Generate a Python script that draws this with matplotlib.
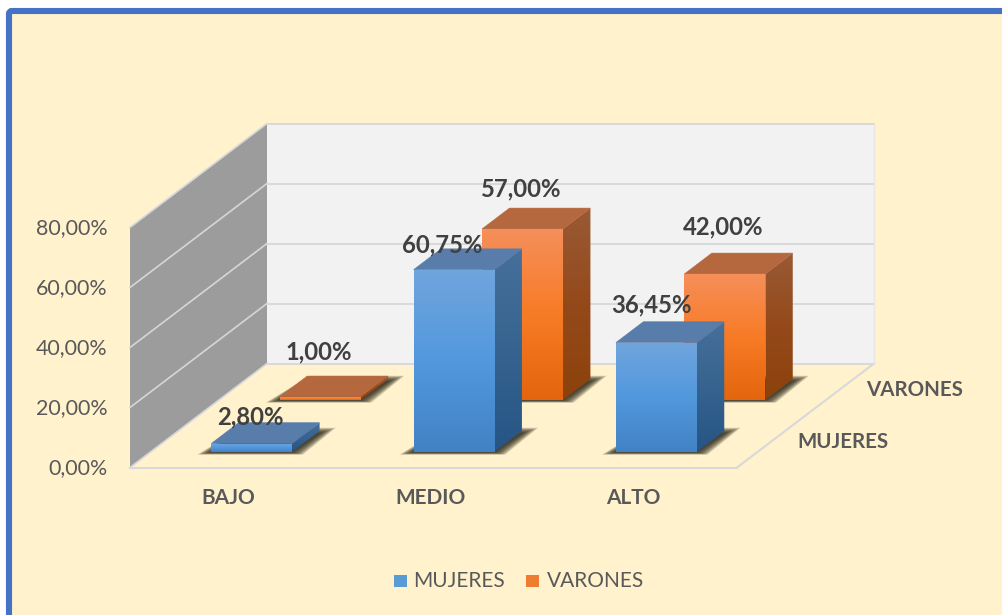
import numpy as np
import matplotlib
matplotlib.use('Agg')
import matplotlib.pyplot as plt
from matplotlib.patches import Polygon, FancyBboxPatch, Rectangle
from matplotlib.colors import LinearSegmentedColormap

categorias = ['BAJO', 'MEDIO', 'ALTO']
series = ['MUJERES', 'VARONES']
mujeres = [2.80, 60.75, 36.45]
varones = [1.00, 57.00, 42.00]
valores_eje = [0, 20, 40, 60, 80]
etiquetas_eje = ['0,00%', '20,00%', '40,00%', '60,00%', '80,00%']

plt.rcParams['font.family'] = ['Lato', 'DejaVu Sans']

# oblique projection, pixels of the picture
X0, Y0 = 130, 467.5
CAT_W = 607 / 3
DEPTH_X, DEPTH_Y = 68.5, 52
PX_POR_PCT = 3.0
BAR_W, BAR_D = 0.40, 0.40


def proj(c, s, v=0):
    return (X0 + c * CAT_W + s * DEPTH_X, Y0 - s * DEPTH_Y - v * PX_POR_PCT)


def face(ax, pts, colores, z):
    # polygon filled with a vertical gradient
    pts = np.array(pts)
    cmap = LinearSegmentedColormap.from_list('g', colores)
    poly = Polygon(pts, closed=True, fc='none', ec='none', zorder=z)
    ax.add_patch(poly)
    grad = np.linspace(0, 1, 128).reshape(-1, 1)
    im = ax.imshow(grad, cmap=cmap, aspect='auto', zorder=z, interpolation='bilinear',
                   extent=(pts[:, 0].min(), pts[:, 0].max(), pts[:, 1].max(), pts[:, 1].min()))
    im.set_clip_path(poly)


def sombra(ax, c, s, z):
    # soft shadow on the floor, built from stacked translucent shapes
    fl = np.array(proj(c, s))
    fr = np.array(proj(c + BAR_W, s))
    br = np.array(proj(c + BAR_W, s + BAR_D))
    bl = np.array(proj(c, s + BAR_D))
    for i in range(10):
        g = i * 1.7
        pts = [fl + (-g * 0.85 - 1, 0.5 + i * 0.25), fr + (g * 0.7, 0.5 + i * 0.25),
               br + (g + 1, 2 - g * 0.35), bl + (g * 0.3 - 2, 2 - g * 0.35)]
        ax.add_patch(Polygon(pts, closed=True, fc='#2a2618', ec='none', alpha=0.17, zorder=z))


def barra(ax, c, s, v, cols, z):
    fl0, fr0 = proj(c, s), proj(c + BAR_W, s)
    fl1, fr1 = proj(c, s, v), proj(c + BAR_W, s, v)
    br0 = proj(c + BAR_W, s + BAR_D)
    br1 = proj(c + BAR_W, s + BAR_D, v)
    bl1 = proj(c, s + BAR_D, v)
    sombra(ax, c, s, z)
    face(ax, [fr0, br0, br1, fr1], cols['lado'], z + 0.1)
    ax.add_patch(Polygon([fl1, fr1, br1, bl1], closed=True, fc=cols['tapa'], ec=cols['tapa'], lw=0.4, zorder=z + 0.2))
    face(ax, [fl0, fr0, fr1, fl1], cols['frente'], z + 0.3)


fig = plt.figure(figsize=(10.03, 6.15), dpi=100, facecolor='white')
ax = fig.add_axes([0, 0, 1, 1])
ax.axis('off')

ax.add_patch(FancyBboxPatch((9, 11), 1020, 640, boxstyle='round,pad=0,rounding_size=3',
                            fc='#fff2cc', ec='#4472c4', lw=4.4, zorder=0))

# walls and floor
linea = '#d9d9d9'
tope = valores_eje[-1]
ax.add_patch(Polygon([proj(0, 2), proj(3, 2), proj(3, 2, tope), proj(0, 2, tope)],
                     closed=True, fc='#f2f2f2', ec='none', zorder=1))
ax.add_patch(Polygon([proj(0, 0), proj(0, 2), proj(0, 2, tope), proj(0, 0, tope)],
                     closed=True, fc='#9c9c9c', ec='none', zorder=1))
for v in valores_eje:
    p0, p1, p2 = proj(0, 0, v), proj(0, 2, v), proj(3, 2, v)
    ax.plot([p0[0], p1[0]], [p0[1], p1[1]], color='#d4d6da', lw=1.2, zorder=2)
    ax.plot([p1[0], p2[0]], [p1[1], p2[1]], color=linea, lw=1.4, zorder=2)
for pa, pb in [(proj(0, 0), proj(3, 0)), (proj(3, 0), proj(3, 2))]:
    ax.plot([pa[0], pb[0]], [pa[1], pb[1]], color=linea, lw=1.5, zorder=2)
pa, pb = proj(3, 2), proj(3, 2, tope)
ax.plot([pa[0], pb[0]], [pa[1], pb[1]], color='#e6e6e6', lw=1.0, zorder=2)

col_mujeres = {'frente': ['#70a5de', '#5298dd', '#4282c4'],
               'lado': ['#46709b', '#36638f', '#265585'],
               'tapa': '#587dab'}
col_varones = {'frente': ['#f58f5a', '#f87b25', '#e3650e'],
               'lado': ['#995a35', '#95491a', '#8c420c'],
               'tapa': '#b5673d'}

# back row first, then the front row
for j, (vals, cols) in reversed(list(enumerate([(mujeres, col_mujeres), (varones, col_varones)]))):
    for i, v in enumerate(vals):
        barra(ax, i + 0.3, j + 0.3, v, cols, 3 + (1 - j) * 2 + i * 0.01)

# data labels were moved by hand in the original chart
desvio_mujeres = [(-1, -27), (-12, -25), (-5, -38)]
desvio_varones = [(-1, -45), (-2, -40), (-2, -47)]
for j, (vals, desvios) in enumerate([(mujeres, desvio_mujeres), (varones, desvio_varones)]):
    for i, v in enumerate(vals):
        x, y = proj(i + 0.5, j + 0.3, v)
        texto = f'{v:.2f}%'.replace('.', ',')
        ax.text(x + desvios[i][0], y + desvios[i][1], texto, ha='center', va='center',
                fontsize=17.2, fontweight='bold', color='#404040', zorder=10)

for v, t in zip(valores_eje, etiquetas_eje):
    x, y = proj(0, 0, v)
    ax.text(x - 22.5, y + 0.5, t, ha='right', va='center', fontsize=15.4, color='#595959', zorder=10)

for i, t in enumerate(categorias):
    x, y = proj(i + 0.5, 0)
    ax.text(x - 3, y + 31, t, ha='center', va='center', fontsize=15, fontweight='bold', color='#595959', zorder=10)

for j, t in enumerate(series):
    x, y = proj(3, j + 0.5)
    ax.text(x + 26, y + 1, t, ha='left', va='center', fontsize=14.8, fontweight='bold', color='#595959', zorder=10)

# legend
for t, color, xc, xt in zip(series, ['#5b9bd5', '#ed7d31'], [394, 526], [413, 547]):
    ax.add_patch(Rectangle((xc, 575), 13, 12, fc=color, ec='none', zorder=10))
    ax.text(xt, 581, t, ha='left', va='center', fontsize=15, color='#595959', zorder=10)

ax.set_xlim(0, 1003)
ax.set_ylim(615, 0)
fig.savefig('out.png', dpi=100)
